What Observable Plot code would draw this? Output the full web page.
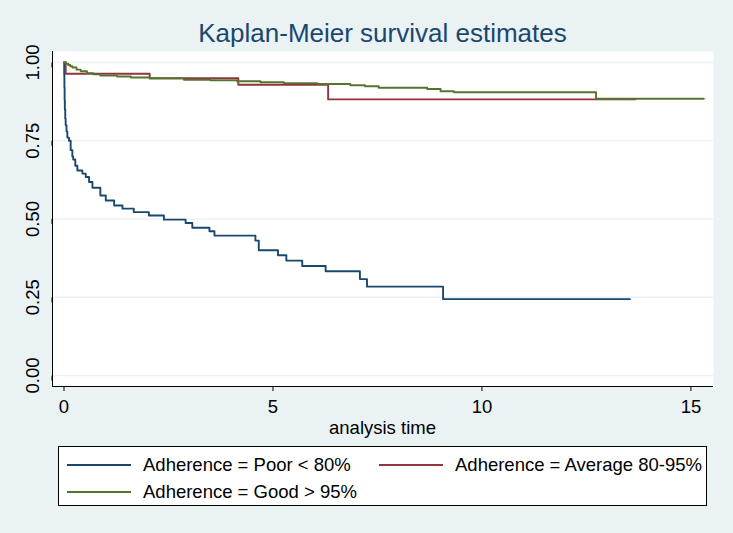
<!DOCTYPE html>
<html>
<head>
<meta charset="utf-8">
<script src="https://cdn.jsdelivr.net/npm/d3@7"></script>
<script src="https://cdn.jsdelivr.net/npm/@observablehq/plot@0.6"></script>
<style>
  body { margin: 0; background: #eaf2f3; }
  #wrap { position: relative; width: 733px; height: 533px; background: #eaf2f3; font-family: "Liberation Sans", Arial, sans-serif; overflow: hidden; }
  #title { position: absolute; left: 52px; width: 661px; top: 18px; height: 30px; line-height: 30px; text-align: center; font-size: 26px; color: #1a476f; }
  #chart { position: absolute; left: 0; top: 40px; }
  #xlabel { position: absolute; left: 52px; width: 661px; top: 417px; height: 22px; line-height: 22px; text-align: center; font-size: 18.5px; color: #000; }
  #legend { position: absolute; left: 58px; top: 446px; width: 647px; height: 58px; background: #fff; border: 1px solid #000; }
  .item { position: absolute; height: 24px; line-height: 24px; font-size: 18.5px; color: #000; white-space: nowrap; }
  .swatch { position: absolute; top: 11px; width: 64px; height: 0; border-top: 2px solid; }
  .ltxt { position: absolute; left: 76px; top: 0; }
</style>
</head>
<body>
<div id="wrap">
  <div id="title">Kaplan-Meier survival estimates</div>
  <div id="chart"></div>
  <div id="xlabel">analysis time</div>
  <div id="legend"></div>
</div>
<script>
// ---- data ----
const groups = ["Adherence = Poor < 80%", "Adherence = Average 80-95%", "Adherence = Good > 95%"];
const colors = ["#1a476f", "#90353b", "#55752f"];

const poorTime = [0, 0.005, 0.01, 0.015, 0.02, 0.03, 0.04, 0.06, 0.08, 0.12, 0.16, 0.2, 0.22, 0.27, 0.32, 0.44, 0.52, 0.6, 0.68, 0.87, 1.0, 1.2, 1.4, 1.67, 2.03, 2.39, 2.91, 3.07, 3.48, 3.6, 4.58, 4.66, 5.12, 5.32, 5.7, 6.26, 7.08, 7.25, 9.07, 13.54];
const poorSurv = [1.0, 0.96, 0.92, 0.88, 0.85, 0.82, 0.80, 0.78, 0.76, 0.75, 0.72, 0.70, 0.69, 0.67, 0.655, 0.645, 0.634, 0.618, 0.60, 0.575, 0.559, 0.543, 0.533, 0.522, 0.511, 0.498, 0.487, 0.472, 0.461, 0.447, 0.431, 0.40, 0.384, 0.367, 0.350, 0.333, 0.308, 0.284, 0.244, 0.244];

const avgTime = [0, 0.04, 2.05, 4.17, 6.32, 13.67];
const avgSurv = [1.0, 0.964, 0.950, 0.929, 0.882, 0.882];

const goodTime = [0, 0.05, 0.1, 0.15, 0.2, 0.3, 0.4, 0.55, 0.7, 0.87, 1.27, 1.6, 2.05, 2.87, 3.5, 4.14, 4.7, 5.26, 6.06, 6.85, 7.2, 7.53, 8.69, 9.01, 9.33, 12.73, 15.31];
const goodSurv = [1.0, 0.996, 0.992, 0.988, 0.984, 0.977, 0.972, 0.966, 0.962, 0.958, 0.955, 0.952, 0.949, 0.945, 0.943, 0.940, 0.937, 0.934, 0.931, 0.927, 0.924, 0.919, 0.915, 0.908, 0.905, 0.884, 0.884];

const xTicks = [0, 5, 10, 15];
const yTicks = [0, 0.25, 0.5, 0.75, 1];
const xDomain = [-0.275, 15.54];
const yDomain = [-0.035, 1.035];

// ---- table ----
const rows = [];
[[poorTime, poorSurv], [avgTime, avgSurv], [goodTime, goodSurv]].forEach(([ts, ss], i) => {
  ts.forEach((t, j) => rows.push({group: groups[i], t, s: ss[j]}));
});

const chart = Plot.plot({
  width: 733,
  height: 400,
  marginTop: 11,
  marginBottom: 54,
  marginLeft: 52,
  marginRight: 20,
  style: {background: "transparent", fontFamily: "'Liberation Sans', Arial, sans-serif", fontSize: "18.5px", color: "#000"},
  x: {domain: xDomain},
  y: {domain: yDomain},
  color: {domain: groups, range: colors},
  marks: [
    Plot.frame({fill: "white", stroke: null}),
    Plot.gridY(yTicks, {stroke: "#eaf2f3", strokeOpacity: 1, strokeWidth: 1.5}),
    Plot.line(rows, {x: "t", y: "s", z: "group", stroke: "group", curve: "step-after", strokeWidth: 1.9}),
    Plot.ruleX([xDomain[0]], {stroke: "#000", strokeWidth: 1}),
    Plot.ruleY([yDomain[0]], {stroke: "#000", strokeWidth: 1}),
    Plot.axisX(xTicks, {tickSize: 5, tickPadding: 8, label: null, tickFormat: d3.format("d")}),
    Plot.axisY(yTicks, {tickSize: 5, tickPadding: 14, label: null, tickFormat: d3.format(".2f"), rotate: -90, textAnchor: "middle"})
  ]
});
document.getElementById("chart").appendChild(chart);

// ---- legend ----
const legend = document.getElementById("legend");
const pos = [[8, 6], [320, 6], [8, 33]];
groups.forEach((g, i) => {
  const it = document.createElement("div");
  it.className = "item";
  it.style.left = pos[i][0] + "px";
  it.style.top = pos[i][1] + "px";
  const sw = document.createElement("div");
  sw.className = "swatch";
  sw.style.borderTopColor = colors[i];
  const tx = document.createElement("span");
  tx.className = "ltxt";
  tx.textContent = g;
  it.appendChild(sw);
  it.appendChild(tx);
  legend.appendChild(it);
});
</script>
</body>
</html>
